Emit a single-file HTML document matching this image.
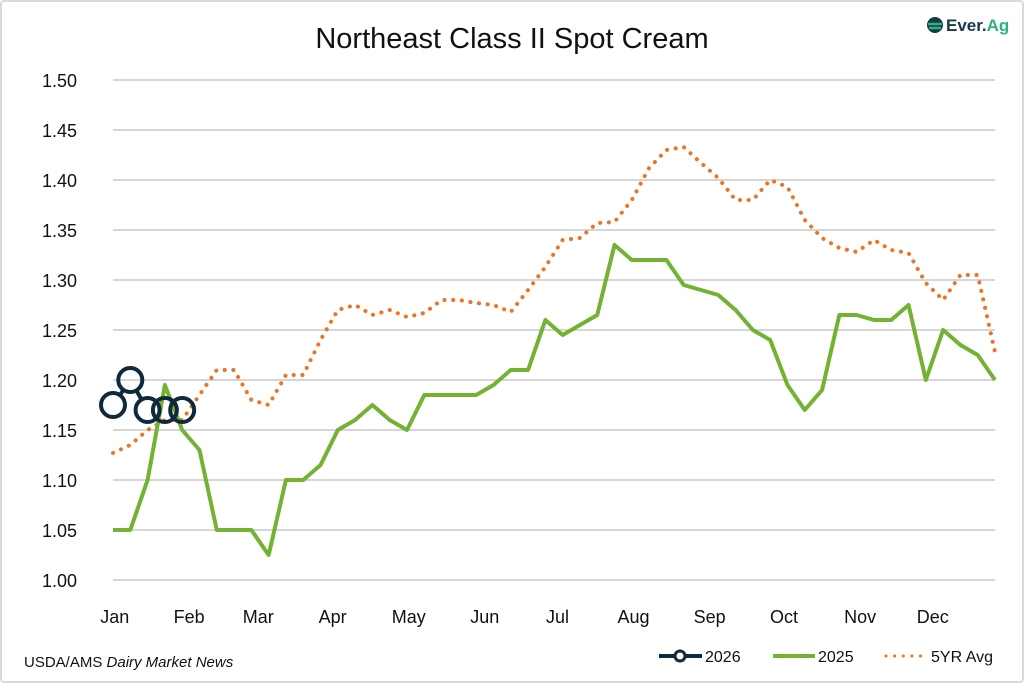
<!DOCTYPE html>
<html><head><meta charset="utf-8"><style>
html,body{margin:0;padding:0;background:#fff;}
body{width:1024px;height:683px;overflow:hidden;font-family:"Liberation Sans",sans-serif;}
#frame{position:absolute;left:0;top:0;width:1020px;height:679px;border:2px solid #d9d9d9;border-radius:4px;}
</style></head><body>
<div id="frame"></div>
<svg id="chart" width="1024" height="683" style="position:absolute;left:0;top:0">
<text x="512" y="48" text-anchor="middle" font-size="29" fill="#111">Northeast Class II Spot Cream</text>
<g>
<circle cx="935" cy="25" r="8" fill="#163a4a"/>
<path d="M928 24 h14 M929 28 h12" stroke="#2bb37a" stroke-width="2.5"/>
<text x="946" y="31" font-size="17" font-weight="bold" fill="#163a4a">Ever.<tspan fill="#2bb37a">Ag</tspan></text>
</g>
<g id="grid"></g><g id="series"></g>
<text x="24" y="667" font-size="15" fill="#111">USDA/AMS <tspan font-style="italic">Dairy Market News</tspan></text>
<g>
<g><line x1="659" y1="656" x2="702" y2="656" stroke="#0f2a3a" stroke-width="4"/><circle cx="680" cy="656" r="5" fill="#fff" stroke="#0f2a3a" stroke-width="3"/><text x="705" y="662" font-size="16" fill="#111">2026</text></g>
<g><line x1="773" y1="656" x2="815" y2="656" stroke="#74b234" stroke-width="4"/><text x="818" y="662" font-size="16" fill="#111">2025</text></g>
<g><line x1="886" y1="656" x2="926" y2="656" stroke="#ee7423" stroke-width="3" stroke-dasharray="0.1 8.5" stroke-linecap="round"/><text x="931" y="662" font-size="16" fill="#111">5YR Avg</text></g>
</g>
</svg>
<script>
const yTicks=[1.00,1.05,1.10,1.15,1.20,1.25,1.30,1.35,1.40,1.45,1.50];
const months=["Jan","Feb","Mar","Apr","May","Jun","Jul","Aug","Sep","Oct","Nov","Dec"];
const monthPos=[0.1,4.4,8.4,12.7,17.1,21.5,25.7,30.1,34.5,38.8,43.2,47.4];
const s2025=[1.05,1.05,1.10,1.195,1.15,1.13,1.05,1.05,1.05,1.025,1.10,1.10,1.115,1.15,1.16,1.175,1.16,1.15,1.185,1.185,1.185,1.185,1.195,1.21,1.21,1.26,1.245,1.255,1.265,1.335,1.32,1.32,1.32,1.295,1.29,1.285,1.27,1.25,1.24,1.195,1.17,1.19,1.265,1.265,1.26,1.26,1.275,1.20,1.25,1.235,1.225,1.20];
const s5yr=[1.127,1.135,1.15,1.16,1.16,1.185,1.21,1.21,1.18,1.175,1.205,1.205,1.24,1.27,1.275,1.265,1.27,1.263,1.267,1.28,1.28,1.277,1.275,1.268,1.29,1.313,1.34,1.342,1.357,1.358,1.38,1.412,1.43,1.433,1.417,1.402,1.38,1.38,1.40,1.393,1.36,1.342,1.332,1.328,1.34,1.33,1.327,1.297,1.28,1.305,1.305,1.228];
const s2026=[1.175,1.20,1.17,1.17,1.17];
const NS="http://www.w3.org/2000/svg";
const X=i=>113+i*(995-113)/51;
const Y=v=>580-(v-1.0)*1000;
function mk(t,a,p){const e=document.createElementNS(NS,t);for(const k in a)e.setAttribute(k,a[k]);p.appendChild(e);return e;}
const grid=document.getElementById('grid'),ser=document.getElementById('series');
yTicks.forEach(v=>{
 const l=mk('line',{x1:113,x2:995,y1:Y(v),y2:Y(v),stroke:'#c8c8c8','stroke-width':1.5},grid);
 
 
 const t=mk('text',{x:77,y:Y(v)+7,'text-anchor':'end','font-size':18,fill:'#111'},grid);
 t.textContent=v.toFixed(2);
 
 
});
months.forEach((m,i)=>{
 const t=mk('text',{x:X(monthPos[i]),y:623,'text-anchor':'middle','font-size':18,fill:'#111'},grid);
 t.textContent=m;
 
 
});
const pts=a=>a.map((v,i)=>X(i)+','+Y(v)).join(' ');
const p5=mk('polyline',{points:pts(s5yr),fill:'none',stroke:'#ee7423','stroke-width':4,'stroke-dasharray':'0.1 8.6','stroke-linecap':'round','stroke-linejoin':'round'},ser);


const p25=mk('polyline',{points:pts(s2025),fill:'none',stroke:'#74b234','stroke-width':4,'stroke-linejoin':'round'},ser);


const R=12;
for(let i=0;i<s2026.length-1;i++){
 const x1=X(i),y1=Y(s2026[i]),x2=X(i+1),y2=Y(s2026[i+1]);
 const d=Math.hypot(x2-x1,y2-y1);
 if(d<=2*R)continue;
 const ux=(x2-x1)/d,uy=(y2-y1)/d;
 const s=mk('line',{x1:x1+ux*R,y1:y1+uy*R,x2:x2-ux*R,y2:y2-uy*R,stroke:'#0f2a3a','stroke-width':4},ser);
 
 
}
s2026.forEach((v,i)=>{
 const c=mk('circle',{cx:X(i),cy:Y(v),r:R,fill:'none',stroke:'#0f2a3a','stroke-width':4},ser);
 
 
});
</script>
</body></html>
